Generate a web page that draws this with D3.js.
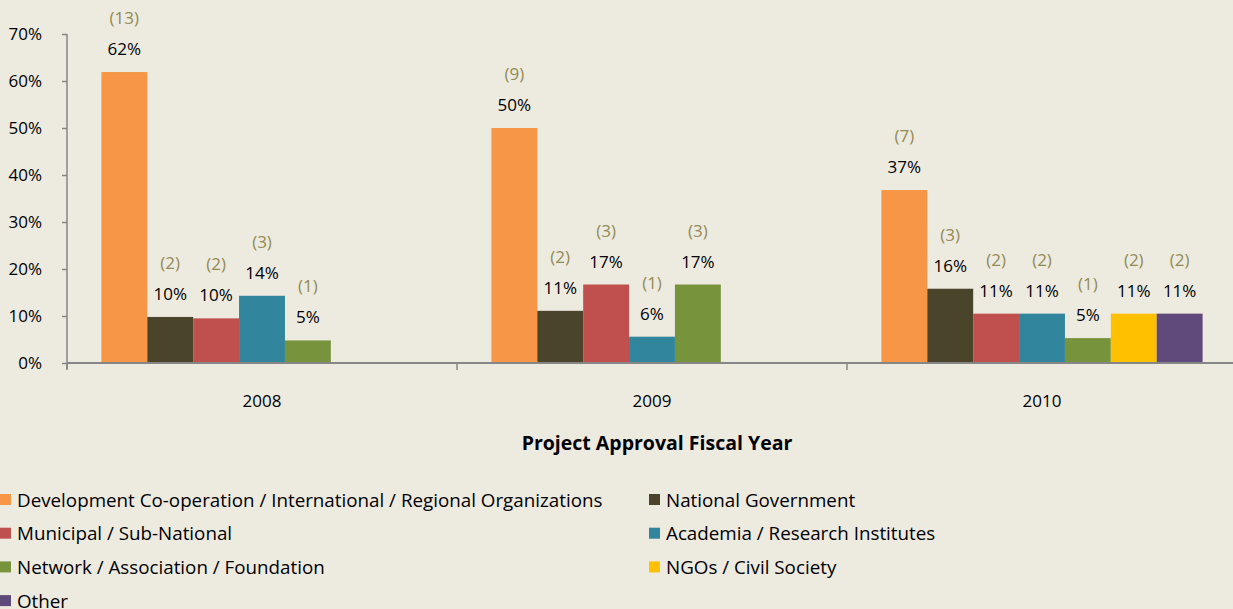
<!DOCTYPE html>
<html>
<head>
<meta charset="utf-8">
<script src="https://cdn.jsdelivr.net/npm/d3@7"></script>
<style>
  body { margin: 0; background: #edeae0; }
  svg { display: block; }
</style>
</head>
<body>
<script>
let w = 1233;
let h = 609;

// data
let years = ["2008", "2009", "2010"];
let series = [
  "Development Co-operation / International / Regional Organizations",
  "National Government",
  "Municipal / Sub-National",
  "Academia / Research Institutes",
  "Network / Association / Foundation",
  "NGOs / Civil Society",
  "Other"
];
let colors = ["#f79646", "#4a452a", "#c0504d", "#31859c", "#77933c", "#ffc000", "#604a7b"];
// share of projects per year (null = no bar)
let values2008 = [0.619, 0.098, 0.095, 0.143, 0.048, null, null];
let values2009 = [0.500, 0.111, 0.167, 0.056, 0.167, null, null];
let values2010 = [0.368, 0.158, 0.105, 0.105, 0.053, 0.105, 0.105];
let counts2008 = [13, 2, 2, 3, 1, null, null];
let counts2009 = [9, 2, 3, 1, 3, null, null];
let counts2010 = [7, 3, 2, 2, 1, 2, 2];
let pctLabels2008 = ["62%", "10%", "10%", "14%", "5%", null, null];
let pctLabels2009 = ["50%", "11%", "17%", "6%", "17%", null, null];
let pctLabels2010 = ["37%", "16%", "11%", "11%", "5%", "11%", "11%"];
let yTicks = [0, 0.1, 0.2, 0.3, 0.4, 0.5, 0.6, 0.7];

let values = [values2008, values2009, values2010];
let counts = [counts2008, counts2009, counts2010];
let pctLabels = [pctLabels2008, pctLabels2009, pctLabels2010];

let rows = [];
years.forEach((y, i) => {
  series.forEach((s, j) => {
    if (values[i][j] != null) {
      rows.push({ year: y, s: j, v: values[i][j], n: counts[i][j], lab: pctLabels[i][j] });
    }
  });
});

let font = "'Open Sans', sans-serif";

let x0 = d3.scaleBand()
  .domain(years)
  .range([67, 1237]);

let x1 = d3.scaleBand()
  .domain(d3.range(series.length))
  .range([0, x0.bandwidth()])
  .paddingOuter(0.75)
  .paddingInner(0);

let yScale = d3.scaleLinear()
  .domain([0, 0.7])
  .range([363, 34]);

let svg = d3.select("body")
  .append("svg")
  .attr("width", w)
  .attr("height", h)
  .style("font-family", font);

svg.append("rect")
  .attr("width", w)
  .attr("height", h)
  .attr("fill", "#edeae0");

// y axis
let yAxis = svg.append("g")
  .attr("transform", "translate(67,0)")
  .call(d3.axisLeft(yScale).tickValues(yTicks).tickFormat(d3.format(".0%")).tickSize(5).tickPadding(20));
yAxis.select(".domain").attr("stroke", "#868686").attr("stroke-width", 1.5)
  .attr("d", "M0,34V369");
yAxis.selectAll(".tick line").attr("stroke", "#868686").attr("stroke-width", 1.5);
yAxis.selectAll(".tick text")
  .attr("font-size", "17px")
  .attr("font-family", font)
  .attr("fill", "#000");

// bars
svg.selectAll("rect.bar")
  .data(rows)
  .enter()
  .append("rect")
  .attr("class", "bar")
  .attr("x", (d) => x0(d.year) + x1(d.s))
  .attr("y", (d) => yScale(d.v))
  .attr("width", x1.bandwidth())
  .attr("height", (d) => yScale(0) - yScale(d.v))
  .attr("fill", (d) => colors[d.s]);

// x axis
let xAxis = svg.append("g")
  .attr("transform", "translate(0,363)")
  .call(d3.axisBottom(x0).tickSize(0).tickPadding(32));
xAxis.select(".domain").attr("stroke", "#868686").attr("stroke-width", 2)
  .attr("d", "M67,0H1233");
xAxis.selectAll(".tick text")
  .attr("font-size", "17px")
  .attr("font-family", font)
  .attr("fill", "#000");
// category separators
svg.selectAll("line.sep")
  .data(years)
  .enter()
  .append("line")
  .attr("class", "sep")
  .attr("x1", (d) => x0(d))
  .attr("x2", (d) => x0(d))
  .attr("y1", 363)
  .attr("y2", 370)
  .attr("stroke", "#868686")
  .attr("stroke-width", 1.5);

// value labels
svg.selectAll("text.pct")
  .data(rows)
  .enter()
  .append("text")
  .attr("class", "pct")
  .attr("text-anchor", "middle")
  .attr("x", (d) => x0(d.year) + x1(d.s) + x1.bandwidth() / 2)
  .attr("y", (d) => yScale(d.v) - 17)
  .attr("font-size", "17px")
  .attr("fill", "#000")
  .text((d) => d.lab);

svg.selectAll("text.cnt")
  .data(rows)
  .enter()
  .append("text")
  .attr("class", "cnt")
  .attr("text-anchor", "middle")
  .attr("x", (d) => x0(d.year) + x1(d.s) + x1.bandwidth() / 2)
  .attr("y", (d) => yScale(d.v) - 48)
  .attr("font-size", "17px")
  .attr("fill", "#948a54")
  .text((d) => "(" + d.n + ")");

// axis title
svg.append("text")
  .attr("x", 657)
  .attr("y", 450)
  .attr("text-anchor", "middle")
  .attr("font-size", "19.5px")
  .attr("font-weight", "bold")
  .attr("fill", "#000")
  .text("Project Approval Fiscal Year");

// legend
let legend = svg.selectAll("g.leg")
  .data(series)
  .enter()
  .append("g")
  .attr("class", "leg")
  .attr("transform", (d, i) => "translate(" + (i % 2 === 0 ? 0 : 649) + "," + (500 + Math.floor(i / 2) * 33.7) + ")");

legend.append("rect")
  .attr("x", 0)
  .attr("y", -6)
  .attr("width", 11)
  .attr("height", 11)
  .attr("fill", (d, i) => colors[i]);

legend.append("text")
  .attr("x", 17)
  .attr("y", 6.5)
  .attr("font-size", "18.8px")
  .attr("fill", "#000")
  .text((d) => d);
</script>
</body>
</html>
